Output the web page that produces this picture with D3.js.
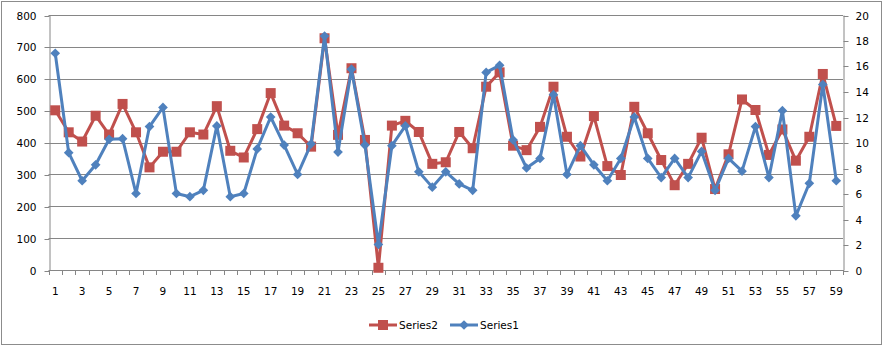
<!DOCTYPE html>
<html>
<head>
<meta charset="utf-8">
<script src="https://cdn.jsdelivr.net/npm/d3@7"></script>
<style>
  html, body { margin: 0; padding: 0; background: #fff; }
  svg { display: block; }
  text { font-family: "DejaVu Sans", sans-serif; font-size: 10.5px; fill: #000; }
</style>
</head>
<body>
<svg id="chart" width="885" height="347"></svg>
<script>
// Category labels 1..59
const categories = [
  1,2,3,4,5,6,7,8,9,10,11,12,13,14,15,16,17,18,19,20,
  21,22,23,24,25,26,27,28,29,30,31,32,33,34,35,36,37,38,39,40,
  41,42,43,44,45,46,47,48,49,50,51,52,53,54,55,56,57,58,59
];

// Series2 – primary (left) axis
const series2 = [
  501, 432, 403, 484, 425, 521, 432, 322, 371, 371,
  432, 425, 514, 374, 353, 442, 555, 453, 429, 387,
  727, 424, 633, 408, 7, 453, 468, 433, 333, 338,
  433, 382, 575, 620, 390, 376, 449, 575, 418, 356,
  483, 326, 298, 512, 429, 345, 266, 333, 415, 254,
  363, 535, 502, 361, 441, 343, 418, 615, 452
];

// Series1 – secondary (right) axis
const series1 = [
  17.0, 9.2, 7.0, 8.25, 10.25, 10.3, 6.0, 11.25, 12.75, 6.0,
  5.75, 6.25, 11.3, 5.75, 6.0, 9.5, 12.0, 9.8, 7.5, 9.9,
  18.35, 9.25, 15.75, 9.8, 2.0, 9.75, 11.3, 7.7, 6.5, 7.7,
  6.75, 6.25, 15.5, 16.05, 10.2, 8.0, 8.75, 13.75, 7.5, 9.75,
  8.25, 7.0, 8.75, 12.0, 8.75, 7.25, 8.75, 7.25, 9.3, 6.25,
  8.75, 7.75, 11.25, 7.25, 12.5, 4.25, 6.8, 14.55, 7.0
];

const leftTicks = [0, 100, 200, 300, 400, 500, 600, 700, 800];
const rightTicks = [0, 2, 4, 6, 8, 10, 12, 14, 16, 18, 20];

const seriesNames = ["Series2", "Series1"];
const colors = { red: "#C0504D", blue: "#4F81BD", grid: "#868686" };

const svg = d3.select("#chart");

// Plot area
const plot = { left: 48.5, right: 843, top: 15, bottom: 270 };

const x = d3.scaleBand().domain(categories).range([plot.left, plot.right]).padding(0);
const yL = d3.scaleLinear().domain([0, 800]).range([plot.bottom, plot.top]);
const yR = d3.scaleLinear().domain([0, 20]).range([plot.bottom, plot.top]);
const cx = d => x(d) + x.bandwidth() / 2;

// Outer chart frame
svg.append("rect")
  .attr("x", 1.5).attr("y", 1.5)
  .attr("width", 880).attr("height", 343)
  .attr("fill", "#fff").attr("stroke", "#8c8c8c").attr("stroke-width", 1);

// Horizontal gridlines
svg.append("g")
  .selectAll("line")
  .data(leftTicks.filter(t => t > 0))
  .join("line")
  .attr("x1", plot.left).attr("x2", plot.right)
  .attr("y1", d => Math.round(yL(d)) + 0.5)
  .attr("y2", d => Math.round(yL(d)) + 0.5)
  .attr("stroke", colors.grid).attr("stroke-width", 1);

// Left axis
const leftAxis = d3.axisLeft(yL).tickValues(leftTicks).tickSize(5).tickPadding(8).tickSizeOuter(0);
const gL = svg.append("g").attr("transform", `translate(${Math.round(plot.left) + 0.5},0)`).call(leftAxis);

// Right axis
const rightAxis = d3.axisRight(yR).tickValues(rightTicks).tickSize(5).tickPadding(7).tickSizeOuter(0);
const gR = svg.append("g").attr("transform", `translate(${Math.round(plot.right) + 0.5},0)`).call(rightAxis);

// Snap tick positions to whole pixels
[gL, gR].forEach(g => {
  g.selectAll(".tick").attr("transform", function () {
    const t = d3.select(this).attr("transform");
    const m = /translate\(([^,]+),([^)]+)\)/.exec(t);
    return `translate(0,${Math.round(+m[2]) + 0.5})`;
  });
});

// Bottom axis: tick marks at category boundaries, labels on odd categories
const gB = svg.append("g");
gB.append("line")
  .attr("x1", plot.left).attr("x2", plot.right)
  .attr("y1", plot.bottom + 0.5).attr("y2", plot.bottom + 0.5)
  .attr("stroke", colors.grid);
const boundaries = categories.map(c => x(c)).concat([x(categories[categories.length - 1]) + x.bandwidth()]);
gB.selectAll("line.tk")
  .data(boundaries)
  .join("line")
  .attr("class", "tk")
  .attr("x1", d => Math.round(d) + 0.5).attr("x2", d => Math.round(d) + 0.5)
  .attr("y1", plot.bottom).attr("y2", plot.bottom + 5)
  .attr("stroke", colors.grid);
gB.selectAll("text")
  .data(categories.filter(c => c % 2 === 1))
  .join("text")
  .attr("x", d => cx(d))
  .attr("y", 295)
  .attr("text-anchor", "middle")
  .text(d => d);

// Axis styling
svg.selectAll(".domain").attr("stroke", colors.grid);
svg.selectAll(".tick line").attr("stroke", colors.grid);
svg.selectAll(".tick text").attr("font-family", "DejaVu Sans, sans-serif").attr("font-size", "10.5px").attr("fill", "#000");

// Series2 line + square markers (left axis)
const lineL = d3.line().x((d, i) => cx(categories[i])).y(d => yL(d));
svg.append("path")
  .datum(series2)
  .attr("d", lineL)
  .attr("fill", "none").attr("stroke", colors.red).attr("stroke-width", 3)
  .attr("stroke-linejoin", "round");
svg.append("g")
  .selectAll("rect")
  .data(series2)
  .join("rect")
  .attr("x", (d, i) => cx(categories[i]) - 5)
  .attr("y", d => yL(d) - 5)
  .attr("width", 10).attr("height", 10)
  .attr("fill", colors.red);

// Series1 line + diamond markers (right axis)
const lineR = d3.line().x((d, i) => cx(categories[i])).y(d => yR(d));
svg.append("path")
  .datum(series1)
  .attr("d", lineR)
  .attr("fill", "none").attr("stroke", colors.blue).attr("stroke-width", 3)
  .attr("stroke-linejoin", "round");
const diamond = d3.symbol().type(d3.symbolDiamond2).size(60);
svg.append("g")
  .selectAll("path")
  .data(series1)
  .join("path")
  .attr("transform", (d, i) => `translate(${cx(categories[i])},${yR(d)})`)
  .attr("d", diamond)
  .attr("fill", colors.blue);

// Legend
const legend = svg.append("g").attr("transform", "translate(0,325)");
const legendItems = [
  { name: seriesNames[0], color: colors.red, x0: 369, marker: "square" },
  { name: seriesNames[1], color: colors.blue, x0: 450, marker: "diamond" }
];
legendItems.forEach(it => {
  legend.append("line")
    .attr("x1", it.x0).attr("x2", it.x0 + 28)
    .attr("y1", 0).attr("y2", 0)
    .attr("stroke", it.color).attr("stroke-width", 3);
  if (it.marker === "square") {
    legend.append("rect")
      .attr("x", it.x0 + 14 - 5).attr("y", -5)
      .attr("width", 10).attr("height", 10)
      .attr("fill", it.color);
  } else {
    legend.append("path")
      .attr("transform", `translate(${it.x0 + 14},0)`)
      .attr("d", diamond)
      .attr("fill", it.color);
  }
  legend.append("text")
    .attr("x", it.x0 + 30)
    .attr("y", 4)
    .text(it.name);
});
</script>
</body>
</html>
